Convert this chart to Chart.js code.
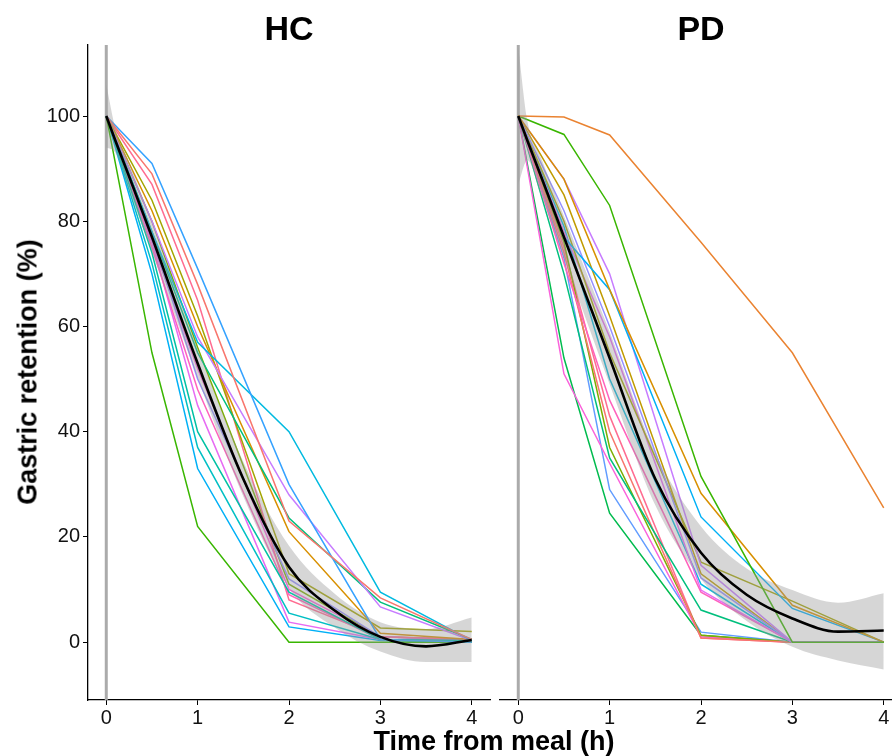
<!DOCTYPE html>
<html>
<head>
<meta charset="utf-8">
<script src="https://cdn.jsdelivr.net/npm/chart.js@4.4.1/dist/chart.umd.min.js"></script>
<style>
  html, body { margin: 0; padding: 0; background: #fff; overflow: hidden; }
  body { width: 892px; height: 756px; position: relative; font-family: "Liberation Sans", Arial, sans-serif; }
  canvas { position: absolute; top: 0; }
  #hc { left: 0; }
  #pd { left: 495px; }
  .ttl { position: absolute; font-weight: bold; color: #000; white-space: nowrap; line-height: 1; }
</style>
</head>
<body>
<canvas id="hc" width="495" height="756"></canvas>
<canvas id="pd" width="425" height="756"></canvas>
<div class="ttl" id="hcTitle" style="font-size:34px; left:289px; top:11px; transform:translateX(-50%)">HC</div>
<div class="ttl" id="pdTitle" style="font-size:34px; left:701px; top:11px; transform:translateX(-50%)">PD</div>
<div class="ttl" style="font-size:27px; left:494px; top:728px; transform:translateX(-50%)">Time from meal (h)</div>
<div class="ttl" style="font-size:27px; left:28px; top:372px; transform:translate(-50%,-50%) rotate(-90deg)">Gastric retention (%)</div>
<script>
// sampling times (h)
const times = [0, 0.5, 1, 2, 3, 4];
const xTicks = [0, 1, 2, 3, 4];
const yTicks = [0, 20, 40, 60, 80, 100];

// healthy controls, one row per subject
const hcColors = ['#F8766D', '#35A2FF', '#00BAE0', '#C77CFF', '#00BF7D', '#D89000', '#A3A500', '#39B600',
  '#00C1A3', '#FF62BC', '#FF6C91', '#00BFC4', '#E76BF3', '#00B0F6', '#9590FF', '#FA62DB', '#7CAE00'];
const hcRetention = [
  [100, 89, 68, 23, 8.4, 0.5],
  [100, 91, 71, 30, 0.5, 0],
  [100, 78, 57, 40, 9.5, 0.3],
  [100, 80, 58, 28, 6.7, 0.3],
  [100, 78, 55, 23.6, 7.6, 0.5],
  [100, 82, 60, 21, 1.7, 0.5],
  [100, 84, 62, 13, 2.7, 2],
  [100, 55, 22, 0, 0, 0],
  [100, 74, 40, 9.5, 0.5, 0.3],
  [100, 75, 48, 9, 0.5, 0.3],
  [100, 87, 65, 8, 1, 0.5],
  [100, 72, 37, 5.5, 0.5, 0],
  [100, 76, 45, 3.8, 0.5, 0.3],
  [100, 70, 33, 2.9, 0.3, 0],
  [100, 77, 50, 12, 1, 0.3],
  [100, 76, 52, 10, 1, 0.5],
  [100, 80, 56, 11, 1, 0.5]
];

// Parkinson's disease, one row per subject
const pdColors = ['#EA8331', '#39B600', '#D89000', '#00B0F6', '#C77CFF', '#9590FF', '#A3A500', '#E76BF3',
  '#FF62BC', '#00BF7D', '#F8766D', '#7CAE00', '#FA62DB', '#00BB4E', '#619CFF', '#FF6C91', '#00BAE0', '#C09B00'];
const pdRetention = [
  [100, 99.8, 96.4, 76, 55, 25.5],
  [100, 96.5, 83, 31.5, 0, 0],
  [100, 88, 67, 28.3, 7, 0],
  [100, 77, 67, 23.8, 6.4, 0],
  [100, 88, 70, 14.6, 0, 0],
  [100, 82, 60, 12.2, 0, 0],
  [100, 80, 55, 15.2, 7.8, 0],
  [100, 78, 58, 9.9, 0, 0],
  [100, 72, 46, 9.5, 0, 0],
  [100, 70, 35, 6.1, 0, 0],
  [100, 74, 40, 0.8, 0, 0],
  [100, 76, 37, 1.3, 0, 0],
  [100, 51, 34, 1, 0, 0],
  [100, 54, 24.5, 1.3, 0, 0],
  [100, 73, 29, 1.9, 0, 0],
  [100, 75, 43, 0.8, 0, 0],
  [100, 79, 50, 11, 0, 0],
  [100, 85, 62, 13, 0, 0]
];

// smooth fit with confidence band
const fitTimes = [0, 0.1, 0.25, 0.5, 1, 1.5, 2, 2.5, 3, 3.5, 4];
const hcFit = [100, 95.3, 88.5, 77, 53, 31, 14.3, 6, 1, -0.8, 0.4];
const hcUpper = [106, 97.6, 91.2, 79.8, 55.8, 34.3, 18.3, 9.2, 3.8, 2.5, 4.7];
const hcLower = [94, 93, 85.8, 74.2, 50.2, 27.7, 10.3, 2.8, -1.8, -3.8, -3.8];
const pdFit = [100, 95.3, 88.5, 77, 54, 31, 17, 9, 4.5, 2, 2.2];
const pdUpper = [113, 99, 92, 81, 59, 36, 22, 14, 9.9, 7.5, 9.3];
const pdLower = [87, 91.6, 85, 73, 49, 26, 12, 4, -0.9, -3.5, -5.2];

const xMin = -0.2, xMax = 4.2;
const yMin = -11, yMax = 113.5;
const mealTime = 0;

function pts(xs, ys) {
  return xs.map((x, i) => ({ x: x, y: ys[i] }));
}

function buildDatasets(rows, colors, fit, upper, lower) {
  const ds = [];
  // black smooth on top
  ds.push({ data: pts(fitTimes, fit), borderColor: '#000', borderWidth: 2.6, pointRadius: 0,
    cubicInterpolationMode: 'monotone', fill: false, order: 0 });
  ds.push({ data: pts(fitTimes, lower), borderWidth: 0, borderColor: 'rgba(0,0,0,0)', pointRadius: 0,
    cubicInterpolationMode: 'monotone', fill: false, order: 1 });
  ds.push({ data: pts(fitTimes, upper), borderWidth: 0, borderColor: 'rgba(0,0,0,0)', pointRadius: 0,
    cubicInterpolationMode: 'monotone', fill: '-1', backgroundColor: 'rgba(153,153,153,0.4)', order: 1 });
  rows.forEach((r, i) => {
    ds.push({ data: pts(times, r), borderColor: colors[i], borderWidth: 1.5, pointRadius: 0,
      tension: 0, fill: false, order: 2 });
  });
  ds.push({ data: [{ x: mealTime, y: yMin }, { x: mealTime, y: yMax }], borderColor: '#ABABAB',
    borderWidth: 3, pointRadius: 0, fill: false, order: 3 });
  return ds;
}

const tickFont = { family: '"Liberation Sans", Arial, sans-serif', size: 20 };

function makeChart(id, rows, colors, fit, upper, lower, showY) {
  const ctx = document.getElementById(id).getContext('2d');
  return new Chart(ctx, {
    type: 'line',
    data: { datasets: buildDatasets(rows, colors, fit, upper, lower) },
    options: {
      responsive: false,
      animation: false,
      events: [],
      layout: { padding: { left: showY ? 0 : 5, right: showY ? 5 : 18, top: 45, bottom: 0 } },
      plugins: { legend: { display: false }, tooltip: { enabled: false } },
      scales: {
        x: {
          type: 'linear', min: xMin, max: xMax,
          afterBuildTicks: s => { s.ticks = xTicks.map(v => ({ value: v })); },
          afterFit: s => { s.height = 56; },
          ticks: { color: '#111', font: tickFont, padding: 1, maxRotation: 0 },
          grid: { drawOnChartArea: false, drawTicks: true, tickLength: 5, color: '#000', lineWidth: 1 },
          border: { display: true, color: '#000', width: 1.3 }
        },
        y: {
          display: showY,
          min: yMin, max: yMax,
          afterBuildTicks: s => { s.ticks = yTicks.map(v => ({ value: v })); },
          afterFit: s => { if (showY) s.width = 88; },
          ticks: { color: '#111', font: tickFont, padding: 3 },
          grid: { drawOnChartArea: false, drawTicks: true, tickLength: 5, color: '#000', lineWidth: 1 },
          border: { display: true, color: '#000', width: 1.3 }
        }
      }
    }
  });
}

makeChart('hc', hcRetention, hcColors, hcFit, hcUpper, hcLower, true);
makeChart('pd', pdRetention, pdColors, pdFit, pdUpper, pdLower, false);
</script>
</body>
</html>
